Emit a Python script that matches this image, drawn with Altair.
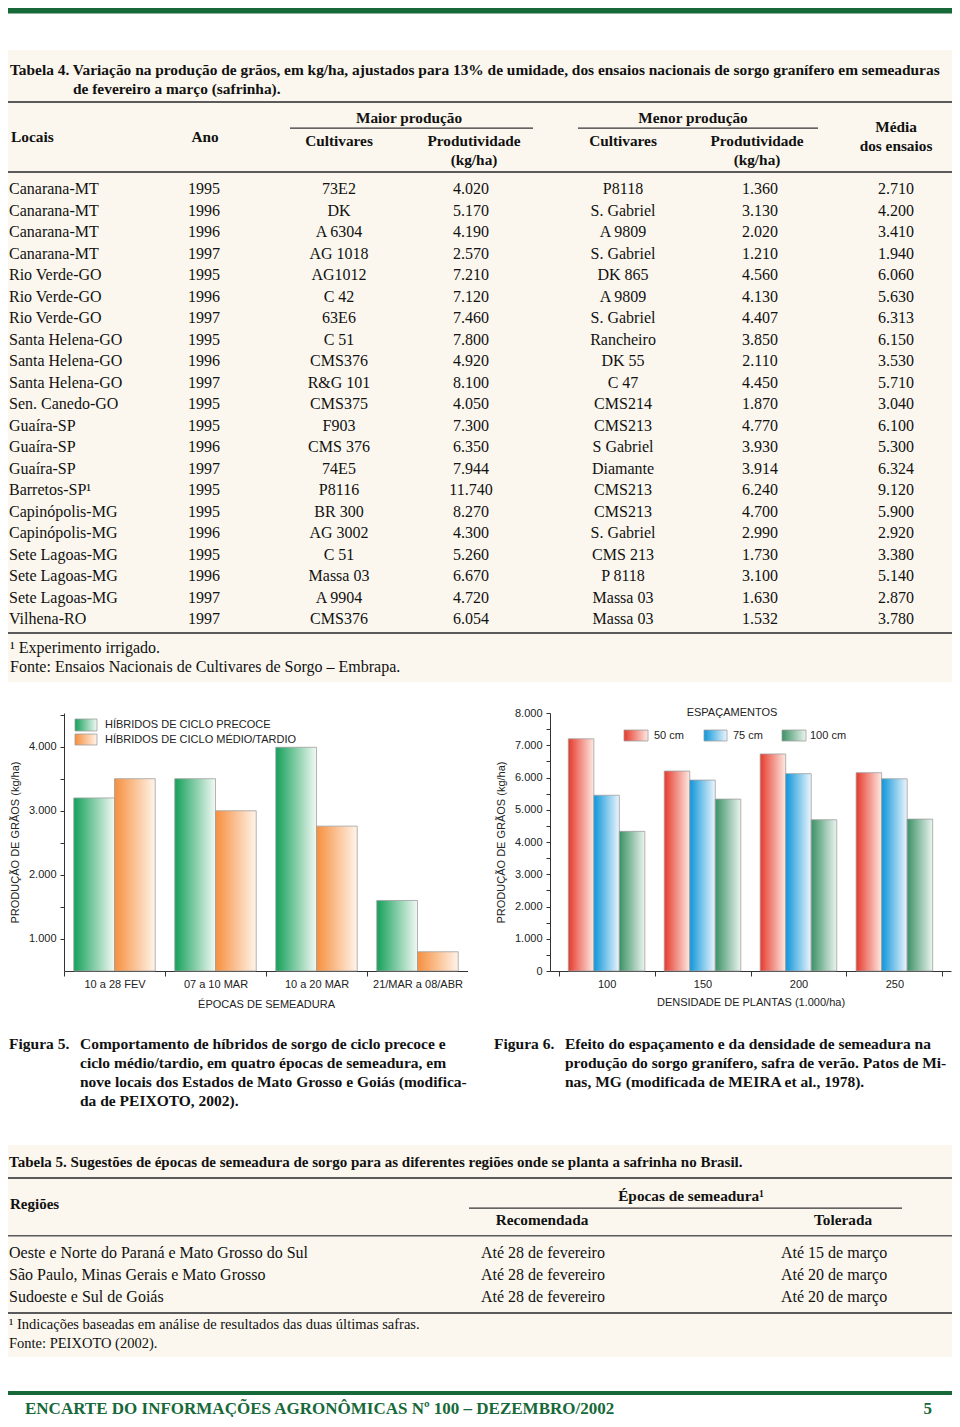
import altair as alt
import pandas as pd

# ---------------- data: Tabela 4 ----------------
LOCAIS = ["Canarana-MT", "Canarana-MT", "Canarana-MT", "Canarana-MT",
          "Rio Verde-GO", "Rio Verde-GO", "Rio Verde-GO",
          "Santa Helena-GO", "Santa Helena-GO", "Santa Helena-GO",
          "Sen. Canedo-GO", "Guaíra-SP", "Guaíra-SP", "Guaíra-SP",
          "Barretos-SP¹", "Capinópolis-MG", "Capinópolis-MG",
          "Sete Lagoas-MG", "Sete Lagoas-MG", "Sete Lagoas-MG", "Vilhena-RO"]
ANOS = [1995, 1996, 1996, 1997, 1995, 1996, 1997, 1995, 1996, 1997, 1995,
        1995, 1996, 1997, 1995, 1995, 1996, 1995, 1996, 1997, 1997]
CULT_MAIOR = ["73E2", "DK", "A 6304", "AG 1018", "AG1012", "C 42", "63E6", "C 51",
              "CMS376", "R&G 101", "CMS375", "F903", "CMS 376", "74E5", "P8116",
              "BR 300", "AG 3002", "C 51", "Massa 03", "A 9904", "CMS376"]
PROD_MAIOR = [4020, 5170, 4190, 2570, 7210, 7120, 7460, 7800, 4920, 8100, 4050,
              7300, 6350, 7944, 11740, 8270, 4300, 5260, 6670, 4720, 6054]
CULT_MENOR = ["P8118", "S. Gabriel", "A 9809", "S. Gabriel", "DK 865", "A 9809",
              "S. Gabriel", "Rancheiro", "DK 55", "C 47", "CMS214", "CMS213",
              "S Gabriel", "Diamante", "CMS213", "CMS213", "S. Gabriel", "CMS 213",
              "P 8118", "Massa 03", "Massa 03"]
PROD_MENOR = [1360, 3130, 2020, 1210, 4560, 4130, 4407, 3850, 2110, 4450, 1870,
              4770, 3930, 3914, 6240, 4700, 2990, 1730, 3100, 1630, 1532]
MEDIA = [2710, 4200, 3410, 1940, 6060, 5630, 6313, 6150, 3530, 5710, 3040,
         6100, 5300, 6324, 9120, 5900, 2920, 3380, 5140, 2870, 3780]

# ---------------- data: Figura 5 ----------------
EPOCAS = ["10 a 28 FEV", "07 a 10 MAR", "10 a 20 MAR", "21/MAR a 08/ABR"]
CICLOS = ["HÍBRIDOS DE CICLO PRECOCE", "HÍBRIDOS DE CICLO MÉDIO/TARDIO"]
PRECOCE = [3200, 3500, 3990, 1600]
TARDIO = [3500, 3000, 2760, 800]

# ---------------- data: Figura 6 ----------------
DENSIDADES = ["100", "150", "200", "250"]
ESPACAMENTOS = ["50 cm", "75 cm", "100 cm"]
ESP_50 = [7200, 6200, 6730, 6150]
ESP_75 = [5450, 5920, 6120, 5960]
ESP_100 = [4330, 5330, 4690, 4710]

# ---------------- data: Tabela 5 ----------------
REGIOES = ["Oeste e Norte do Paraná e Mato Grosso do Sul",
           "São Paulo, Minas Gerais e Mato Grosso",
           "Sudoeste e Sul de Goiás"]
RECOMENDADA = ["Até 28 de fevereiro", "Até 28 de fevereiro", "Até 28 de fevereiro"]
TOLERADA = ["Até 15 de março", "Até 20 de março", "Até 20 de março"]

# ---------------- style / layout ----------------
W = 944
XS = 3
SERIF = "Liberation Serif"
SANS = "Liberation Sans"
INK = "#111111"
RULE = "#5a5a5a"
CREAM = "#fbf7ee"
GREEN = "#17693a"
BAR_STROKE = "#a0a0a0"
ONE = pd.DataFrame({"k": [0]})


def kg(v):
    return f"{v:,}".replace(",", ".")


def px(x):
    return min(max(x - XS, 0), W)


def grad(c0, c1):
    return alt.LinearGradient(
        gradient="linear",
        stops=[alt.GradientStop(color=c0, offset=0), alt.GradientStop(color=c1, offset=1)],
        x1=0, x2=1, y1=0, y2=0)


G_GREEN5 = grad("#15a05a", "#f2f9f4")
G_ORANGE = grad("#f68f3e", "#fff4ea")
G_RED = grad("#e63a2c", "#fde9e2")
G_BLUE = grad("#0e96da", "#ecf5fc")
G_GREEN6 = grad("#3b9165", "#ebf4ef")


def section(height, oy, rects, texts):
    sx = alt.Scale(domain=[0, W], nice=False, zero=False)
    sy = alt.Scale(domain=[0, height], nice=False, zero=False, reverse=True)
    rows = [{"x": 0, "x2": W, "y": 0, "y2": height, "c": "#ffffff"}]
    for (a, b, c, d, col) in rects:
        rows.append({"x": px(a), "x2": px(b), "y": c - oy, "y2": d - oy, "c": col})
    layers = [alt.Chart(pd.DataFrame(rows)).mark_rect().encode(
        x=alt.X("x:Q", scale=sx, axis=None), x2="x2:Q",
        y=alt.Y("y:Q", scale=sy, axis=None), y2="y2:Q",
        fill=alt.Fill("c:N", scale=None))]
    for (align, bold, size, color), items in texts:
        df = pd.DataFrame([{"x": rx - XS, "y": ry - oy, "t": str(t)} for (t, rx, ry) in items])
        layers.append(alt.Chart(df).mark_text(
            align=align, baseline="middle", font=SERIF, fontSize=size,
            fontWeight="bold" if bold else "normal", color=color).encode(
            x=alt.X("x:Q", scale=sx, axis=None),
            y=alt.Y("y:Q", scale=sy, axis=None),
            text="t:N"))
    return alt.layer(*layers).properties(width=W, height=height)


# ---------------- Section 1: Tabela 4 ----------------
ROW_Y = [189 + i * 21.5 for i in range(len(LOCAIS))]
s1_rects = [
    (3, 952, 8, 13.5, GREEN),
    (0, 952, 50, 682, CREAM),
    (3, 952, 101, 103, RULE),
    (285, 528, 127.4, 128.8, "#333333"),
    (573, 813, 127.4, 128.8, "#333333"),
    (3, 952, 171, 173, RULE),
    (3, 952, 632, 634, RULE),
]
s1_texts = [
    (("left", True, 15.4, INK), [
        ("Tabela 4. Variação na produção de grãos, em kg/ha, ajustados para 13% de umidade, "
         "dos ensaios nacionais de sorgo granífero em semeaduras", 5, 70),
        ("de fevereiro a março (safrinha).", 68, 89),
        ("Locais", 6, 137),
    ]),
    (("center", True, 15.3, INK), [
        ("Maior produção", 404, 118), ("Menor produção", 688, 118),
        ("Ano", 200, 137),
        ("Cultivares", 334, 141), ("Produtividade", 469, 141), ("(kg/ha)", 469, 160),
        ("Cultivares", 618, 141), ("Produtividade", 752, 141), ("(kg/ha)", 752, 160),
        ("Média", 891, 127), ("dos  ensaios", 891, 146),
    ]),
    (("left", False, 16, INK),
     [(l, 4, y) for l, y in zip(LOCAIS, ROW_Y)] +
     [("¹ Experimento irrigado.", 5, 648),
      ("Fonte: Ensaios Nacionais de Cultivares de Sorgo – Embrapa.", 5, 667)]),
    (("center", False, 16, INK),
     [(a, 199, y) for a, y in zip(ANOS, ROW_Y)] +
     [(c, 334, y) for c, y in zip(CULT_MAIOR, ROW_Y)] +
     [(kg(v), 466, y) for v, y in zip(PROD_MAIOR, ROW_Y)] +
     [(c, 618, y) for c, y in zip(CULT_MENOR, ROW_Y)] +
     [(kg(v), 755, y) for v, y in zip(PROD_MENOR, ROW_Y)] +
     [(kg(v), 891, y) for v, y in zip(MEDIA, ROW_Y)]),
]
S1 = section(695, 8, s1_rects, s1_texts)

# ---------------- Section 2: figures ----------------
LBL = "datum.value % 1000 == 0 ? replace(format(datum.value, ','), ',', '.') : ''"


def spacer(w):
    return alt.Chart(ONE).mark_rect(color="white").encode(
        x=alt.value(0), x2=alt.value(w), y=alt.value(-10), y2=alt.value(300)
    ).properties(width=w, height=258)


def swatch(g, x0, x1, y0, y1):
    return alt.Chart(ONE).mark_rect(fill=g, stroke=BAR_STROKE, strokeWidth=0.8).encode(
        x=alt.value(x0), x2=alt.value(x1), y=alt.value(y0), y2=alt.value(y1))


def label(t, x, y, align="left"):
    return alt.Chart(ONE).mark_text(text=t, align=align, baseline="middle", font=SANS,
                                    fontSize=11, color="#222222").encode(
        x=alt.value(x), y=alt.value(y))


# Figura 5
fig5_df = pd.DataFrame({
    "epoca": EPOCAS * 2,
    "ciclo": [CICLOS[0]] * len(EPOCAS) + [CICLOS[1]] * len(EPOCAS),
    "prod": PRECOCE + TARDIO,
})
x5 = alt.X("epoca:N", scale=alt.Scale(domain=EPOCAS, paddingInner=0, paddingOuter=0),
           axis=alt.Axis(title="ÉPOCAS DE SEMEADURA", labelAngle=0, tickBand="extent",
                         tickSize=5, labelPadding=2, titlePadding=9))
xo5 = alt.XOffset("ciclo:N", scale=alt.Scale(domain=CICLOS, paddingInner=0, paddingOuter=0.24))
y5 = alt.Y("prod:Q", stack=None,
           scale=alt.Scale(domain=[500, 4525], nice=False, zero=False),
           axis=alt.Axis(title="PRODUÇÃO DE GRÃOS (kg/ha)", values=list(range(1000, 4501, 500)),
                         labelExpr=LBL, tickSize=4, labelPadding=4,
                         titleX=-49, titleY=129, titleBaseline="middle"))
fig5_layers = []
for s, g in zip(CICLOS, [G_GREEN5, G_ORANGE]):
    fig5_layers.append(
        alt.Chart(fig5_df).transform_filter(alt.datum.ciclo == s)
        .mark_bar(fill=g, stroke=BAR_STROKE, strokeWidth=0.8)
        .encode(x=x5, xOffset=xo5, y=y5, y2=alt.datum(500)))
fig5_layers += [
    swatch(G_GREEN5, 11, 33, 6, 18), label(CICLOS[0], 41, 12),
    swatch(G_ORANGE, 11, 33, 21, 32), label(CICLOS[1], 41, 27),
]
fig5 = alt.layer(*fig5_layers).properties(width=404, height=258)

# Figura 6
fig6_df = pd.DataFrame({
    "dens": DENSIDADES * 3,
    "esp": [e for e in ESPACAMENTOS for _ in DENSIDADES],
    "prod": ESP_50 + ESP_75 + ESP_100,
})
x6 = alt.X("dens:N", scale=alt.Scale(domain=DENSIDADES, paddingInner=0, paddingOuter=0.09),
           axis=alt.Axis(title="DENSIDADE DE PLANTAS (1.000/ha)", labelAngle=0, tickBand="extent",
                         tickSize=5, labelPadding=2, titlePadding=7))
xo6 = alt.XOffset("esp:N", scale=alt.Scale(domain=ESPACAMENTOS, paddingInner=0, paddingOuter=0.38))
y6 = alt.Y("prod:Q", stack=None,
           scale=alt.Scale(domain=[0, 8000], nice=False, zero=False),
           axis=alt.Axis(title="PRODUÇÃO DE GRÃOS (kg/ha)", values=list(range(0, 8001, 500)),
                         labelExpr=LBL, tickSize=4, labelPadding=4,
                         titleX=-49, titleY=129, titleBaseline="middle"))
fig6_layers = []
for s, g in zip(ESPACAMENTOS, [G_RED, G_BLUE, G_GREEN6]):
    fig6_layers.append(
        alt.Chart(fig6_df).transform_filter(alt.datum.esp == s)
        .mark_bar(fill=g, stroke=BAR_STROKE, strokeWidth=0.8)
        .encode(x=x6, xOffset=xo6, y=y6, y2=alt.datum(0)))
fig6_layers += [
    label("ESPAÇAMENTOS", 182, 0, align="center"),
    swatch(G_RED, 74, 98, 17, 28), label(ESPACAMENTOS[0], 104, 23),
    swatch(G_BLUE, 154, 177, 17, 28), label(ESPACAMENTOS[1], 183, 23),
    swatch(G_GREEN6, 232, 256, 17, 28), label(ESPACAMENTOS[2], 260, 23),
]
fig6 = alt.layer(*fig6_layers).properties(width=401, height=258)

S2 = alt.hconcat(spacer(56), fig5, spacer(82), fig6, spacing=0, bounds="flush") \
    .resolve_scale(xOffset="independent")

# ---------------- Section 3: captions, Tabela 5, footer ----------------
T5_Y = [1253, 1275, 1297]
s3_rects = [
    (0, 952, 1145, 1357, CREAM),
    (3, 952, 1177, 1179, RULE),
    (464, 897, 1207.4, 1208.8, "#333333"),
    (3, 952, 1235, 1236.4, RULE),
    (3, 952, 1312, 1314, RULE),
    (3, 952, 1391, 1395, GREEN),
]
s3_texts = [
    (("left", True, 15.5, INK), [
        ("Figura 5.", 4, 1044),
        ("Comportamento de híbridos de sorgo de ciclo precoce e", 75, 1044),
        ("ciclo médio/tardio, em quatro épocas de semeadura, em", 75, 1063),
        ("nove locais dos Estados de Mato Grosso e Goiás (modifica-", 75, 1082),
        ("da de PEIXOTO, 2002).", 75, 1101),
        ("Figura 6.", 489, 1044),
        ("Efeito do espaçamento e da densidade de semeadura na", 560, 1044),
        ("produção do sorgo granífero, safra de verão. Patos de Mi-", 560, 1063),
        ("nas, MG (modificada de MEIRA et al., 1978).", 560, 1082),
    ]),
    (("left", True, 15, INK), [
        ("Tabela 5. Sugestões de épocas de semeadura de sorgo para as diferentes regiões "
         "onde se planta a safrinha no Brasil.", 4, 1162),
        ("Regiões", 5, 1204),
    ]),
    (("center", True, 15.3, INK), [
        ("Épocas de semeadura¹", 686, 1196),
        ("Recomendada", 537, 1220),
        ("Tolerada", 838, 1220),
    ]),
    (("left", False, 16, INK),
     [(r, 4, y) for r, y in zip(REGIOES, T5_Y)] +
     [(r, 476, y) for r, y in zip(RECOMENDADA, T5_Y)] +
     [(r, 776, y) for r, y in zip(TOLERADA, T5_Y)]),
    (("left", False, 14.5, INK), [
        ("¹ Indicações baseadas em análise de resultados das duas últimas safras.", 4, 1325),
        ("Fonte: PEIXOTO (2002).", 4, 1344),
    ]),
    (("left", True, 17, GREEN), [
        ("ENCARTE DO INFORMAÇÕES AGRONÔMICAS Nº 100 – DEZEMBRO/2002", 20, 1409),
    ]),
    (("right", True, 17, GREEN), [("5", 927, 1409)]),
]
S3 = section(404, 1013, s3_rects, s3_texts)

chart = alt.vconcat(S1, S2, S3, spacing=0).resolve_scale(xOffset="independent").properties(
    padding=0, background="white"
).configure_view(stroke=None).configure_axis(
    labelFont=SANS, labelFontSize=11, labelColor="#222222",
    titleFont=SANS, titleFontSize=11, titleFontWeight="normal", titleColor="#222222",
    domainColor="#333333", tickColor="#333333", grid=False
)

chart.save("out.html", embed_options={"renderer": "svg", "actions": False})
